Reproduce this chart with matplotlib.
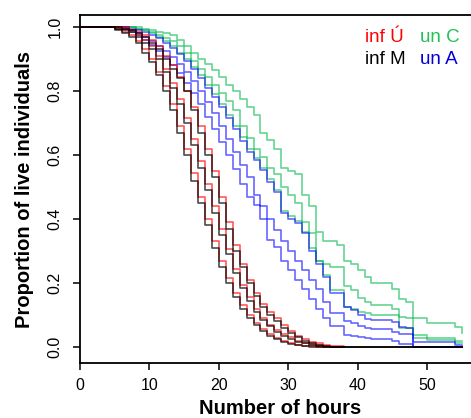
import matplotlib
matplotlib.use("Agg")
import matplotlib.pyplot as plt

plt.rcParams["font.family"] = ["Liberation Sans", "DejaVu Sans"]

# step times (hours); infected groups use HOURS_INF, uninfected use HOURS_UN
HOURS_INF = [0] + list(range(5, 39))
HOURS_UN = [0] + list(range(5, 43)) + [45, 46, 47, 48, 50, 54, 55]

# infected, Ú (red): upper / mid / lower
INF_U_HI = [1.0, 1.0, 1.0, 0.99, 0.985, 0.975, 0.96, 0.94, 0.91, 0.88, 0.845, 0.80, 0.75, 0.69, 0.62,
            0.55, 0.47, 0.39, 0.32, 0.26, 0.21, 0.17, 0.135, 0.11, 0.09, 0.07, 0.05, 0.035, 0.025,
            0.017, 0.011, 0.007, 0.004, 0.002, 0.0]
INF_U_MID = [1.0, 1.0, 0.995, 0.99, 0.975, 0.96, 0.94, 0.91, 0.87, 0.825, 0.775, 0.715, 0.65, 0.58,
             0.51, 0.44, 0.37, 0.305, 0.245, 0.195, 0.155, 0.12, 0.092, 0.07, 0.053, 0.04, 0.03,
             0.02, 0.014, 0.009, 0.005, 0.003, 0.001, 0.0, 0.0]
INF_U_LO = [1.0, 0.995, 0.985, 0.975, 0.955, 0.93, 0.90, 0.86, 0.815, 0.76, 0.69, 0.62, 0.545, 0.47,
            0.40, 0.33, 0.27, 0.215, 0.17, 0.13, 0.10, 0.075, 0.055, 0.04, 0.028, 0.019, 0.012,
            0.007, 0.004, 0.002, 0.0, 0.0, 0.0, 0.0, 0.0]

# infected, M (black)
INF_M_HI = [1.0, 1.0, 0.995, 0.99, 0.98, 0.97, 0.95, 0.93, 0.90, 0.87, 0.84, 0.80, 0.74, 0.67, 0.60,
            0.53, 0.45, 0.37, 0.30, 0.25, 0.20, 0.16, 0.125, 0.10, 0.08, 0.06, 0.045, 0.03, 0.02,
            0.012, 0.006, 0.003, 0.0, 0.0, 0.0]
INF_M_MID = [1.0, 0.995, 0.99, 0.985, 0.97, 0.95, 0.93, 0.90, 0.86, 0.81, 0.76, 0.70, 0.63, 0.56,
             0.49, 0.42, 0.35, 0.29, 0.23, 0.185, 0.145, 0.11, 0.085, 0.065, 0.048, 0.035, 0.025,
             0.017, 0.011, 0.006, 0.003, 0.0, 0.0, 0.0, 0.0]
INF_M_LO = [1.0, 0.99, 0.98, 0.97, 0.95, 0.92, 0.89, 0.85, 0.80, 0.74, 0.67, 0.60, 0.52, 0.45, 0.38,
            0.31, 0.25, 0.20, 0.155, 0.12, 0.09, 0.068, 0.05, 0.035, 0.024, 0.016, 0.01, 0.006,
            0.003, 0.0, 0.0, 0.0, 0.0, 0.0, 0.0]

# uninfected, C (green)
UN_C_HI = [1.0, 1.0, 1.0, 1.0, 1.0, 0.995, 0.99, 0.985, 0.98, 0.975, 0.96, 0.94, 0.92, 0.90, 0.885,
           0.865, 0.845, 0.82, 0.80, 0.775, 0.75, 0.725, 0.67, 0.647, 0.62, 0.56, 0.55, 0.54,
           0.475, 0.44, 0.36, 0.33, 0.33, 0.32, 0.27, 0.26, 0.24, 0.22, 0.20,
           0.18, 0.15, 0.14, 0.037, 0.022, 0.011, 0.011]
UN_C_MID = [1.0, 1.0, 1.0, 1.0, 0.995, 0.99, 0.985, 0.975, 0.965, 0.955, 0.94, 0.92, 0.895, 0.87,
            0.845, 0.82, 0.795, 0.77, 0.74, 0.69, 0.652, 0.62, 0.595, 0.56, 0.54, 0.50, 0.475,
            0.45, 0.39, 0.355, 0.27, 0.26, 0.25, 0.25, 0.19, 0.178, 0.152, 0.14, 0.13,
            0.12, 0.095, 0.09, 0.09, 0.074, 0.063, 0.043]
UN_C_LO = [1.0, 1.0, 1.0, 1.0, 0.995, 0.99, 0.98, 0.97, 0.955, 0.94, 0.92, 0.90, 0.875, 0.85, 0.82,
           0.79, 0.76, 0.725, 0.69, 0.655, 0.62, 0.59, 0.56, 0.525, 0.49, 0.425, 0.41, 0.395,
           0.36, 0.31, 0.27, 0.225, 0.178, 0.178, 0.126, 0.12, 0.11, 0.105, 0.10,
           0.10, 0.058, 0.058, 0.027, 0.027, 0.018, 0.018]

# uninfected, A (blue)
UN_A_HI = [1.0, 1.0, 1.0, 0.995, 0.99, 0.985, 0.975, 0.965, 0.95, 0.935, 0.915, 0.895, 0.87, 0.84,
           0.81, 0.78, 0.75, 0.715, 0.68, 0.645, 0.61, 0.584, 0.553, 0.517, 0.485, 0.418, 0.40,
           0.387, 0.355, 0.30, 0.26, 0.22, 0.17, 0.17, 0.126, 0.116, 0.10, 0.089, 0.084,
           0.078, 0.063, 0.058, 0.016, 0.016, 0.005, 0.0]
UN_A_MID = [1.0, 1.0, 1.0, 0.99, 0.98, 0.97, 0.955, 0.94, 0.925, 0.905, 0.885, 0.86, 0.83, 0.80,
            0.765, 0.73, 0.69, 0.65, 0.61, 0.57, 0.53, 0.475, 0.44, 0.40, 0.366, 0.33, 0.30,
            0.27, 0.24, 0.21, 0.18, 0.14, 0.105, 0.105, 0.08, 0.075, 0.066, 0.06, 0.055,
            0.047, 0.042, 0.042, 0.0, 0.0, 0.0, 0.0]
UN_A_LO = [1.0, 1.0, 0.995, 0.985, 0.975, 0.96, 0.945, 0.925, 0.905, 0.88, 0.855, 0.825, 0.795,
           0.76, 0.72, 0.68, 0.64, 0.60, 0.555, 0.51, 0.47, 0.444, 0.40, 0.334, 0.313, 0.27,
           0.24, 0.21, 0.18, 0.15, 0.12, 0.09, 0.066, 0.066, 0.037, 0.035, 0.03, 0.028, 0.025,
           0.02, 0.01, 0.01, 0.0, 0.0, 0.0, 0.0]

GROUPS = [
    ("un C", "#00b84a", 0.6, HOURS_UN, [UN_C_HI, UN_C_MID, UN_C_LO], False),
    ("un A", "#0000ff", 0.6, HOURS_UN, [UN_A_HI, UN_A_MID, UN_A_LO], False),
    ("inf Ú", "#ff0000", 0.65, HOURS_INF, [INF_U_HI, INF_U_MID, INF_U_LO], False),
    ("inf M", "#000000", 0.7, HOURS_INF, [INF_M_HI, INF_M_MID, INF_M_LO], True),
]

X_TICKS = [0, 10, 20, 30, 40, 50]
Y_TICKS = [0.0, 0.2, 0.4, 0.6, 0.8, 1.0]

W, H = 471, 418
fig = plt.figure(figsize=(W / 100, H / 100), dpi=100)
ax = fig.add_axes([80 / W, 55 / H, 391 / W, 348 / H])

for name, color, alpha, hours, curves, extend in GROUPS:
    for vals in curves:
        assert len(vals) == len(hours), name
        xs, ys = list(hours), list(vals)
        if extend:
            xs.append(55)
            ys.append(vals[-1])
        ax.step(xs, ys, where="post", color=color, lw=1.2, alpha=alpha)

ax.set_xlim(0, 56.34)
ax.set_ylim(-0.05, 1.0375)
ax.spines["right"].set_visible(False)
for side in ["left", "top", "bottom"]:
    ax.spines[side].set_linewidth(1.3)

ax.set_xticks(X_TICKS)
ax.set_xticklabels([str(v) for v in X_TICKS])
ax.set_yticks(Y_TICKS)
ax.set_yticklabels([f"{v:.1f}" for v in Y_TICKS], rotation=90, va="center")
ax.tick_params(direction="out", length=5, width=1.1, labelsize=11.5)
ax.tick_params(axis="x", pad=6)
ax.tick_params(axis="y", pad=7.5)

fig.text(25 / W, 1 - 189 / H, "Proportion of live individuals", rotation=90,
         fontsize=14.5, fontweight="bold", ha="center", va="center")
fig.text(280 / W, 1 - 413.5 / H, "Number of hours", fontsize=14.5, fontweight="bold",
         ha="center", va="baseline")

legend_pos = {"inf Ú": (365, 37), "un C": (420, 37), "inf M": (365, 60), "un A": (420, 60)}
legend_col = {"inf Ú": "#ff0000", "un C": "#22c055", "inf M": "#000000", "un A": "#0000dd"}
for label, (px, py) in legend_pos.items():
    fig.text(px / W, 1 - py / H, label, color=legend_col[label], fontsize=13.5,
             ha="left", va="center")

fig.savefig("out.png", dpi=100)
